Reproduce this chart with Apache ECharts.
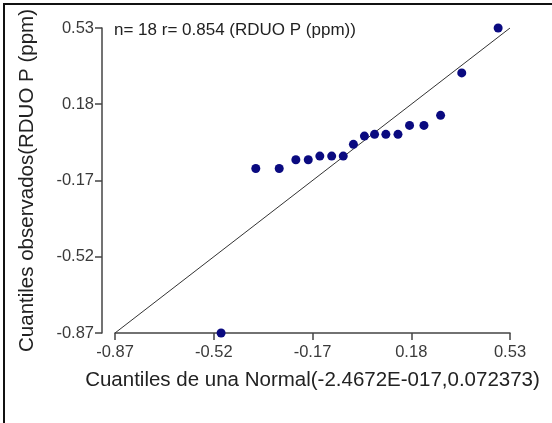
<!DOCTYPE html>
<html>
<head>
<meta charset="utf-8">
<script src="https://cdn.jsdelivr.net/npm/echarts@6/dist/echarts.min.js"></script>
<style>
  html, body { margin: 0; padding: 0; background: #fff; }
  #chart { width: 552px; height: 423px; }
</style>
</head>
<body>
<div id="chart"></div>
<script>
// Normal-quantile plot of RDUO P (ppm)
const normalQuantiles = [-0.494, -0.371, -0.288, -0.229, -0.185, -0.144, -0.102, -0.061, -0.025,
                          0.014, 0.050, 0.090, 0.133, 0.174, 0.225, 0.284, 0.359, 0.488];
const observedQuantiles = [-0.87, -0.115, -0.115, -0.075, -0.075, -0.058, -0.058, -0.058, -0.004,
                            0.034, 0.042, 0.042, 0.042, 0.083, 0.083, 0.129, 0.324, 0.53];
const xTicks = [-0.87, -0.52, -0.17, 0.18, 0.53];
const yTicks = [-0.87, -0.52, -0.17, 0.18, 0.53];
const refLine = [[-0.87, -0.87], [0.53, 0.53]];
const noteText = 'n= 18 r= 0.854 (RDUO P (ppm))';
const xTitle = 'Cuantiles de una Normal(-2.4672E-017,0.072373)';
const yTitle = 'Cuantiles observados(RDUO P (ppm)';

const FONT = '"Liberation Sans", Arial, sans-serif';
const points = normalQuantiles.map((x, i) => [x, observedQuantiles[i]]);

const axisCommon = (ticks, margin) => ({
  type: 'value',
  min: ticks[0],
  max: ticks[ticks.length - 1],
  splitLine: { show: false },
  axisLine: { show: true, onZero: false, lineStyle: { color: '#444', width: 1.5 } },
  axisTick: { show: true, customValues: ticks, length: 7, lineStyle: { color: '#444', width: 1.5 } },
  axisLabel: {
    customValues: ticks,
    formatter: v => v.toFixed(2),
    margin: margin,
    color: '#3a3a3a', fontSize: 16.5, fontFamily: FONT
  },
  nameLocation: 'middle',
  nameTextStyle: { color: '#222', fontSize: 20.5, fontFamily: FONT }
});

const chart = echarts.init(document.getElementById('chart'), null, { renderer: 'canvas' });
chart.setOption({
  animation: false,
  backgroundColor: '#fff',
  grid: { left: 115, right: 42, top: 28, bottom: 90, containLabel: false, outerBoundsMode: 'none' },
  xAxis: Object.assign(axisCommon(xTicks, 11), { name: xTitle, nameGap: 37 }),
  yAxis: Object.assign(axisCommon(yTicks, 8), { name: yTitle, nameGap: 64, offset: 13 }),
  graphic: [
    { type: 'line', shape: { x1: 3, y1: 4, x2: 552, y2: 4 }, style: { stroke: '#111', lineWidth: 2 } },
    { type: 'line', shape: { x1: 4, y1: 4, x2: 4, y2: 423 }, style: { stroke: '#111', lineWidth: 2 } },
    { type: 'text', x: 114, y: 30,
      style: { text: noteText, fill: '#222', fontSize: 17, fontFamily: FONT, verticalAlign: 'middle' } }
  ],
  series: [
    {
      type: 'line',
      data: refLine,
      showSymbol: false,
      lineStyle: { color: '#333', width: 1 },
      silent: true,
      z: 2
    },
    {
      type: 'scatter',
      data: points,
      symbol: 'circle',
      symbolSize: 9,
      clip: false,
      itemStyle: { color: '#0a0a80', opacity: 1 },
      z: 3
    }
  ]
});
</script>
</body>
</html>
